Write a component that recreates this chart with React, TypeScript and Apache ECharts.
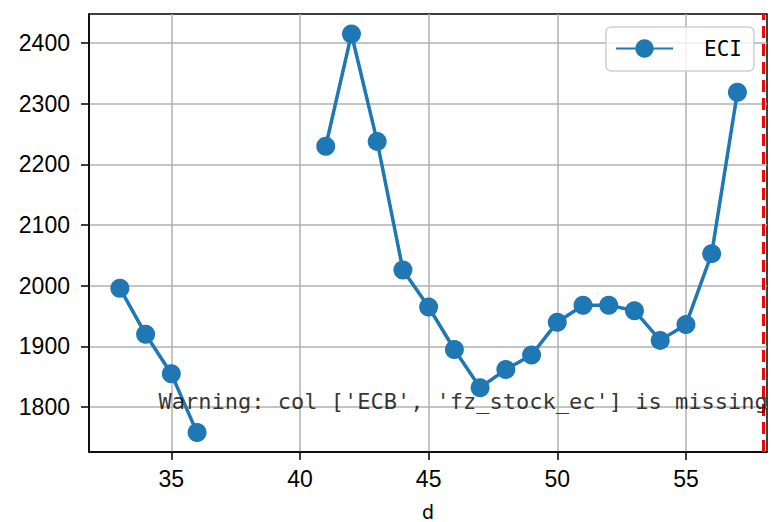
import React, { useEffect, useRef } from "react";
import * as echarts from "echarts";

const xValues = [33, 34, 35, 36, 37, 38, 39, 40, 41, 42, 43, 44, 45, 46, 47, 48, 49, 50, 51, 52, 53, 54, 55, 56, 57];
const eciValues: (number | null)[] = [
  1996, 1920, 1855, 1758, null, null, null, null, 2230, 2415, 2238, 2026, 1965,
  1895, 1832, 1862, 1886, 1940, 1968, 1968, 1959, 1910, 1936, 2053, 2319,
];
const xTicks = [35, 40, 45, 50, 55];
const yTicks = [1800, 1900, 2000, 2100, 2200, 2300, 2400];
const cutoffX = 58;
const warningText = "Warning: col ['ECB', 'fz_stock_ec'] is missing";
const warningAt = [34.5, 1800];
const seriesName = "ECI";
const xName = "d";

export default function App() {
  const ref = useRef<HTMLDivElement>(null);
  useEffect(() => {
    if (!ref.current) return;
    const chart = echarts.init(ref.current, null, { renderer: "svg" });
    const lineData = xValues.map((x, i) => [x, eciValues[i] === null ? "-" : eciValues[i]]);
    const tickFont = { fontFamily: "Liberation Sans", fontSize: 23, color: "#000" };
    chart.setOption({
      animation: false,
      backgroundColor: "#fff",
      grid: {
        left: 89,
        right: 6,
        top: 14,
        bottom: 70,
        show: true,
        borderColor: "#000",
        borderWidth: 1.5,
        backgroundColor: "transparent",
        outerBoundsMode: "none",
        containLabel: false,
      },
      legend: {
        data: [seriesName],
        left: 606,
        top: 27,
        orient: "vertical",
        itemWidth: 57,
        itemHeight: 23,
        padding: [10, 12, 11, 9],
        borderColor: "#d0d0d0",
        borderWidth: 1.5,
        borderRadius: 5,
        backgroundColor: "rgba(255,255,255,0.8)",
        textStyle: {
          fontFamily: "DejaVu Sans Mono",
          fontSize: 21,
          color: "#000",
          padding: [0, 0, 0, 26],
          lineHeight: 23,
        },
      },
      xAxis: {
        type: "value",
        min: 31.8,
        max: 58.15,
        name: xName,
        nameLocation: "middle",
        nameGap: 60,
        nameTextStyle: {
          fontFamily: "DejaVu Sans",
          fontSize: 19,
          lineHeight: 17,
          color: "#000",
          verticalAlign: "middle",
        },
        axisLine: { show: true, onZero: false, lineStyle: { color: "#000", width: 1.5 } },
        axisTick: { show: true, customValues: xTicks, length: 8, lineStyle: { color: "#000", width: 1.5 } },
        axisLabel: { customValues: xTicks, margin: 15, formatter: (v: number) => String(v), ...tickFont },
        splitLine: { show: true, lineStyle: { color: "#b0b0b0", width: 1.5 } },
      },
      yAxis: {
        type: "value",
        min: 1726,
        max: 2448,
        axisLine: { show: true, onZero: false, lineStyle: { color: "#000", width: 1.5 } },
        axisTick: { show: true, customValues: yTicks, length: 8, lineStyle: { color: "#000", width: 1.5 } },
        axisLabel: { customValues: yTicks, margin: 19, formatter: (v: number) => String(v), ...tickFont },
        splitLine: { show: true, lineStyle: { color: "#b0b0b0", width: 1.5 } },
      },
      series: [
        {
          name: seriesName,
          type: "line",
          data: lineData,
          connectNulls: false,
          symbol: "circle",
          symbolSize: 19,
          showAllSymbol: true,
          lineStyle: { color: "#1f77b4", width: 3.5 },
          itemStyle: { color: "#1f77b4" },
          z: 3,
          markLine: {
            silent: true,
            symbol: "none",
            label: { show: false },
            lineStyle: { color: "#ff0000", type: [12, 6], width: 3 },
            data: [{ xAxis: cutoffX }],
          },
        },
        {
          name: "warning",
          type: "scatter",
          data: [warningAt],
          symbolSize: 0,
          silent: true,
          z: 10,
          label: {
            show: true,
            position: [0, 5],
            align: "left",
            verticalAlign: "bottom",
            formatter: () => warningText,
            fontFamily: "DejaVu Sans Mono",
            fontSize: 22,
            color: "#000",
          },
        },
      ],
    });
    return () => chart.dispose();
  }, []);
  return <div ref={ref} style={{ position: "fixed", left: 0, top: 0, width: 773, height: 522 }} />;
}
